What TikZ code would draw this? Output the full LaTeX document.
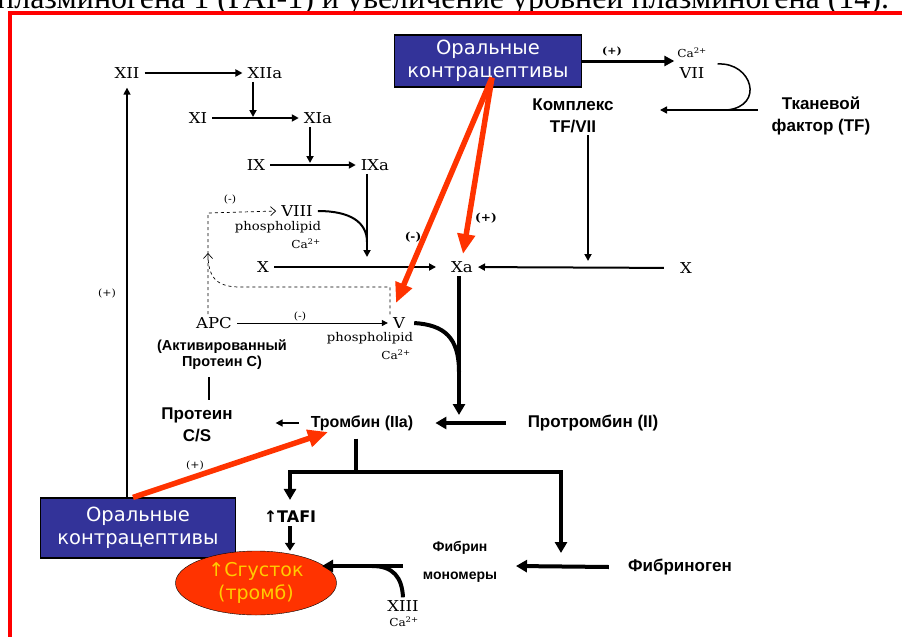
\documentclass[tikz,border=0pt]{standalone}
\usepackage{fontspec}
\setmainfont{Liberation Serif}
\newfontfamily\facfont[FakeStretch=1.1]{DejaVu Serif}
\newfontfamily\lblfont{Liberation Sans}
\newfontfamily\boxfont{DejaVu Sans}
\usepackage{tikz}
\usetikzlibrary{arrows.meta, positioning, shapes.geometric}
\definecolor{drugblue}{HTML}{333399}
\definecolor{ocred}{HTML}{FF3300}
\definecolor{clotyellow}{HTML}{FFCC00}

\begin{document}
\begin{tikzpicture}[x=1pt, y=-1pt, >={Triangle[length=7pt,width=7pt]},
    fac/.style={font=\facfont\fontsize{15}{17}\selectfont, inner xsep=5pt, inner ysep=3pt},
    cofac/.style={font=\facfont\fontsize{11}{13}\selectfont, inner sep=0pt},
    sign/.style={font=\facfont\fontsize{10}{12}\selectfont, inner sep=0pt},
    lbl/.style={font=\lblfont\bfseries\fontsize{17}{22}\selectfont, align=center, inner sep=2pt},
    drug/.style={draw=black, line width=1.2pt, fill=drugblue, text=white, align=center, font=\boxfont\fontsize{19.5}{23}\selectfont},
    flow/.style={->, line width=2pt},
    heavy/.style={line width=4pt, -{Triangle[length=11pt,width=12pt]}},
    oc/.style={draw=ocred, line width=5.5pt, -{Triangle[length=20pt,width=17pt]}},
    neg/.style={dashed, line width=0.7pt, -{Straight Barb[length=5pt,width=9pt]}}]
    \useasboundingbox (0,0) rectangle (902,637);
    \clip (0,0) rectangle (902,637);
    \node[anchor=base west, inner sep=0pt, font=\fontsize{32}{38}\selectfont] (caption) at (-3,9) {плазминогена 1 (PAI-1) и увеличение уровней плазминогена (14).};
    \draw[red, line width=4pt] (9.5,660) |- (910,13);

    % intrinsic pathway
    \node[fac] (XII) at (127,73) {XII};
    \node[fac] (XIIa) at (265,73) {XIIa};
    \node[fac] (XI) at (198,118) {XI};
    \node[fac] (XIa) at (318,118) {XIa};
    \node[fac] (IX) at (256,165) {IX};
    \node[fac] (IXa) at (375,165) {IXa};
    \coordinate (onXI) at (253,117);
    \coordinate (onIX) at (310,163);
    \coordinate (onX) at (367,257);
    \draw[flow] (XII) -- (XIIa);
    \draw[flow] (XI) -- (XIa);
    \draw[flow] (IX) -- (IXa);
    \draw[flow] (XIIa.south -| onXI) -- (onXI);
    \draw[flow] (XIa.south -| onIX) -- (onIX);
    \draw[flow] (IXa.south -| onX) -- (onX);

    \node[fac] (VIII) at (297,211) {VIII};
    \node[cofac, font=\facfont\fontsize{12}{14}\selectfont] (pl8) at (278,227) {phospholipid};
    \node[cofac] (ca8) at (306,244) {Ca\textsuperscript{2+}};
    \draw[line width=2pt] (VIII.east) .. controls (350,211) and (367,222) .. (367,242);

    % common pathway
    \node[fac] (X) at (263,267) {X};
    \node[fac] (Xa) at (462,267) {Xa};
    \node[fac] (Xr) at (686,268) {X};
    \draw[flow, shorten >=10pt] (X) -- (Xa);
    \draw[flow, shorten <=11pt] (Xr) -- (Xa);

    % extrinsic pathway
    \node[drug, minimum width=187pt, minimum height=52pt] (ocTop) at (488,61) {Оральные\\контрацептивы};
    \node[fac] (VII) at (692,73) {VII};
    \node[cofac] (ca7) at (692,53) {Ca\textsuperscript{2+}};
    \node[lbl] (TFVII) at (573,116) {Комплекс\\TF/VII};
    \node[lbl] (TF) at (821,116) {Тканевой\\фактор (TF)};
    \coordinate (tfTip) at (660,110);
    \coordinate (onXr) at (588,261);
    \draw[flow, line width=3pt, -{Triangle[length=10pt,width=10pt]}] (ocTop.east) -- (ocTop.east -| VII.west);
    \node[sign, font=\facfont\bfseries\fontsize{10}{12}\selectfont] (plus7) at (612,51) {(+)};
    \draw[->, line width=1.5pt, shorten <=12pt] (TF.west |- tfTip) -- (tfTip);
    \draw[line width=1.5pt] ([xshift=8pt,yshift=9pt]VII.east) .. controls (752,62) and (765,106) .. (727,110);
    \draw[line width=2pt, ->] (TFVII.south -| onXr) -- (onXr);

    % protein C
    \node[fac] (APC) at (214,323) {APC};
    \node[fac] (V) at (399,323) {V};
    \node[cofac, font=\facfont\fontsize{12}{14}\selectfont] (pl5) at (370,338) {phospholipid};
    \node[cofac] (ca5) at (396,355) {Ca\textsuperscript{2+}};
    \node[sign] (negAV) at (300,316) {(-)};
    \node[sign] (negAP) at (230,199) {(-)};
    \coordinate (negCorner) at (208,213);
    \coordinate (apcJoin) at (208,253);
    \coordinate (vTop) at (390,287);
    \draw[->, line width=0.8pt, >={Triangle[length=6pt,width=6pt]}] (APC) -- (V);
    \draw[neg] (APC.north -| negCorner) -- (negCorner) -- (VIII.west);
    \draw[neg] (V.north -| vTop) -- (vTop) -- (240,287) .. controls (216,287) and (208,277) .. (apcJoin);
    \draw[line width=4pt] ([xshift=4pt]V.east) .. controls (445,325) and (459,338) .. (459,372);
    \node[lbl, font=\lblfont\bfseries\fontsize{14.5}{16}\selectfont] (APCtxt) at (222,355) {(Активированный\\Протеин С)};
    \node[lbl] (protCS) at (197,425) {Протеин\\C/S};
    \coordinate (tick) at (209,0);
    \draw[line width=2.5pt, shorten <=5pt, shorten >=6pt] (APCtxt.south -| tick) -- (protCS.north -| tick);

    % thrombin
    \node[lbl, font=\lblfont\bfseries\fontsize{16}{19}\selectfont] (thr) at (362,423) {Тромбин (IIa)};
    \node[lbl] (prothr) at (593,423) {Протромбин (II)};
    \coordinate (onThr) at (459,415);
    \draw[heavy] (Xa.south -| onThr) -- (onThr);
    \draw[heavy] ([xshift=-20pt]prothr.west) -- ([xshift=20pt]thr.east);
    \draw[->, line width=1.5pt] ([xshift=-10pt]thr.west) -- ([xshift=-33pt]thr.west);

    % oral contraceptives
    \node[drug, minimum width=195pt, minimum height=60pt] (ocLow) at (138,528) {Оральные\\контрацептивы};
    \node[sign] (plusXII) at (107,293) {(+)};
    \draw[->, line width=1.5pt, shorten >=6pt] (ocLow.north -| XII) -- (XII.south);
    \coordinate (thrTip) at (328,432);
    \coordinate (vTip) at (396,303);
    \coordinate (xaTip) at (463,254);
    \draw[oc] ([xshift=-5pt]ocLow.north) -- (thrTip);
    \draw[oc] ([xshift=4pt,yshift=10pt]ocTop.south) -- (vTip);
    \draw[oc] ([xshift=4pt,yshift=10pt]ocTop.south) -- (xaTip);
    \node[sign] (plusThr) at (195,465) {(+)};
    \node[sign, font=\facfont\bfseries\fontsize{11}{12}\selectfont] (negV) at (413,237) {(-)};
    \node[sign, font=\facfont\bfseries\fontsize{11}{12}\selectfont] (plusXa) at (486,218) {(+)};

    % fibrin and clot
    \node[font=\boxfont\bfseries\fontsize{16}{19}\selectfont, inner sep=3pt] (TAFI) at (290,517) {↑TAFI};
    \node[ellipse, draw=black, fill=ocred, minimum width=161pt, minimum height=64pt, inner sep=0pt, text=clotyellow, align=center, font=\boxfont\fontsize{19}{23}\selectfont] (clot) at (256,583) {↑Сгусток\\(тромб)};
    \node[lbl, font=\lblfont\bfseries\fontsize{14}{28}\selectfont] (fibrin) at (460,562) {Фибрин\\мономеры};
    \node[lbl] (fibrinogen) at (680,567) {Фибриноген};
    \node[fac] (XIII) at (403,606) {XIII};
    \node[cofac] (ca13) at (404,622) {Ca\textsuperscript{2+}};
    \coordinate (split) at (356,472);
    \coordinate (fibJoin) at (561,553);
    \coordinate (fibTip) at (516,566);
    \coordinate (clotIn) at (322,566);
    \draw[line width=4pt, shorten <=6pt] (thr.south -| split) -- ([yshift=-2pt]split);
    \draw[heavy, shorten >=8pt] (split) -| (TAFI.north);
    \draw[heavy] (split) -| (fibJoin);
    \draw[heavy, -{Triangle[length=8pt,width=10pt]}] (TAFI.south) -- (TAFI.south |- clot.north);
    \draw[heavy] ([xshift=-17pt]fibrinogen.west) -- (fibTip);
    \draw[heavy] (XIII.north |- clotIn) -- (clotIn);
    \draw[line width=4pt] (XIII.north) .. controls (402,577) and (393,566) .. (372,566);
\end{tikzpicture}
\end{document}
